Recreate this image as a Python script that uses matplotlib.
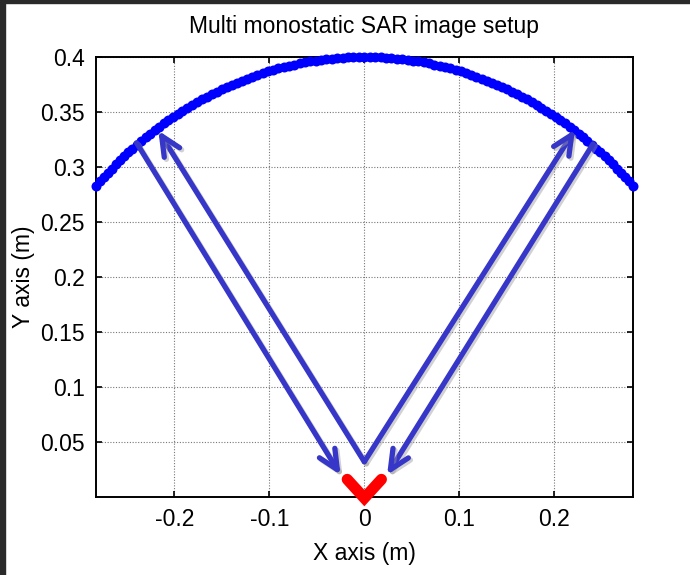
import numpy as np
import matplotlib.pyplot as plt
import matplotlib.patheffects as pe
from matplotlib.patches import Rectangle

# aperture (antenna positions on an arc)
radius = 0.4
ang_start, ang_stop = 45.0, 135.0  # degrees
n_pos = 111

# target (red V) vertices
target_x = [-0.018, 0.0, 0.018]
target_y = [0.016, -0.001, 0.016]

# arrows: (tail x, tail y, head x, head y)
arrows = [
    (0.0, 0.032, -0.217, 0.333),    # left, outgoing
    (-0.240, 0.322, -0.025, 0.020),  # left, return
    (0.0, 0.032, 0.222, 0.334),     # right, outgoing
    (0.241, 0.321, 0.024, 0.020),   # right, return
]

xticks = [-0.2, -0.1, 0, 0.1, 0.2]
yticks = [0.05, 0.1, 0.15, 0.2, 0.25, 0.3, 0.35, 0.4]

plt.rcParams['font.family'] = ['Liberation Sans', 'DejaVu Sans']

ang = np.radians(np.linspace(ang_start, ang_stop, n_pos))
ax_pos = radius * np.cos(ang)
ay_pos = radius * np.sin(ang)

fig = plt.figure(figsize=(6.9, 5.75), dpi=100)
ax = fig.add_axes([0.139, 0.1357, 0.778, 0.7652])

ax.plot(ax_pos, ay_pos, 'o', color='#0000ff', ms=7.2, mew=0, clip_on=False, zorder=3)
ax.plot(target_x, target_y, '-', color='#ff0000', lw=8, solid_capstyle='round',
        solid_joinstyle='miter', clip_on=False, zorder=4)

shadow = [pe.SimpleLineShadow(offset=(1.5, -1.5), shadow_color='#999999', alpha=0.45), pe.Normal()]
for x0, y0, x1, y1 in arrows:
    ax.annotate('', xy=(x1, y1), xytext=(x0, y0),
                arrowprops=dict(arrowstyle='->,head_length=1.4,head_width=0.65',
                                color='#3636c8', lw=3.8, shrinkA=0, shrinkB=0,
                                path_effects=shadow),
                zorder=5)

ax.set_xlim(-0.2828, 0.2828)
ax.set_ylim(0, 0.4)
ax.set_xticks(xticks)
ax.set_xticklabels(['-0.2', '-0.1', '0', '0.1', '0.2'])
ax.set_yticks(yticks)
ax.set_yticklabels(['0.05', '0.1', '0.15', '0.2', '0.25', '0.3', '0.35', '0.4'])
ax.grid(True, linestyle=(0, (1, 1.5)), color='#777777', lw=0.8)
ax.tick_params(direction='in', top=True, right=True, length=4, width=1.2,
               labelsize=16.5, pad=8)
for s in ax.spines.values():
    s.set_linewidth(1.4)

ax.set_title('Multi monostatic SAR image setup', fontsize=16.5, pad=17)
ax.set_xlabel('X axis (m)', fontsize=16.5, labelpad=8)
ax.set_ylabel('Y axis (m)', fontsize=16.5, labelpad=4)

# dark screenshot frame on left and top
fig.patches.append(Rectangle((0, 0), 5 / 690, 1, transform=fig.transFigure,
                             color='#2a2a2a', zorder=10))
fig.patches.append(Rectangle((0, 1 - 3 / 575), 1, 3 / 575, transform=fig.transFigure,
                             color='#2a2a2a', zorder=10))

fig.savefig('out.png', dpi=100)
